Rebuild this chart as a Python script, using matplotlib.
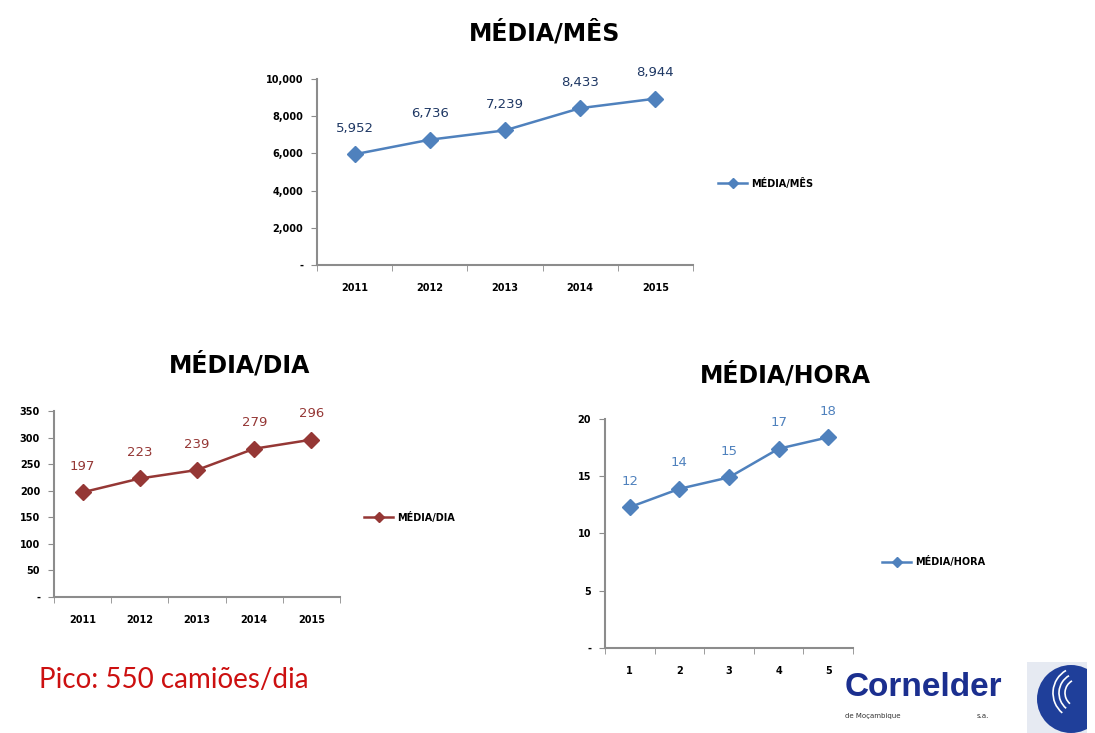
import matplotlib
matplotlib.use("Agg")
import matplotlib.pyplot as plt
from matplotlib.patches import Circle, Rectangle, Arc
from matplotlib.ticker import FixedLocator

# ---------------- data ----------------
years = ["2011", "2012", "2013", "2014", "2015"]
hours_cats = ["1", "2", "3", "4", "5"]
media_mes = [5952, 6736, 7239, 8433, 8944]
media_dia = [197, 223, 239, 279, 296]
media_hora = [12.3, 13.9, 14.9, 17.4, 18.4]

mes_yticks = [0, 2000, 4000, 6000, 8000, 10000]
mes_ylabels = ["-", "2,000", "4,000", "6,000", "8,000", "10,000"]
dia_yticks = [0, 50, 100, 150, 200, 250, 300, 350]
dia_ylabels = ["-", "50", "100", "150", "200", "250", "300", "350"]
hora_yticks = [0, 5, 10, 15, 20]
hora_ylabels = ["-", "5", "10", "15", "20"]

BLUE = "#4f81bd"
RED = "#953735"
GRAY = "#8c8c8c"

fig = plt.figure(figsize=(10.95, 7.33), dpi=100)
fig.patch.set_facecolor("white")


def make_chart(rect, cats, vals, yticks, ylabels, color, label_color, fmt, name, leg_pos):
    ax = fig.add_axes(rect)
    x = list(range(len(cats)))
    line, = ax.plot(x, vals, color=color, lw=1.8, marker="D", markersize=8,
                    markeredgecolor=color, label=name)
    for xi, v in zip(x, vals):
        ax.annotate(fmt(v), (xi, v), xytext=(0, 14), textcoords="offset points",
                    ha="center", va="bottom", fontsize=9.5, color=label_color)
    ax.set_xlim(-0.5, len(cats) - 0.5)
    ax.set_ylim(yticks[0], yticks[-1])
    ax.set_xticks(x)
    ax.set_xticklabels(cats, fontsize=7, fontweight="bold")
    ax.xaxis.set_minor_locator(FixedLocator([i - 0.5 for i in range(len(cats) + 1)]))
    ax.tick_params(axis="x", which="major", length=0, pad=13)
    ax.tick_params(axis="x", which="minor", length=4, color=GRAY, direction="out")
    ax.set_yticks(yticks)
    ax.set_yticklabels(ylabels, fontsize=7, fontweight="bold")
    ax.tick_params(axis="y", length=4, color=GRAY, pad=6)
    for s in ("top", "right"):
        ax.spines[s].set_visible(False)
    for s in ("left", "bottom"):
        ax.spines[s].set_color(GRAY)
        ax.spines[s].set_linewidth(1.5)
    ax.set_facecolor("none")
    fig.legend(handles=[line], labels=[name], loc="center left",
               bbox_to_anchor=leg_pos, bbox_transform=fig.transFigure,
               frameon=False, handlelength=3, handletextpad=0.4,
               borderpad=0, borderaxespad=0, markerscale=0.6,
               prop={"size": 7, "weight": "bold"})
    return ax


fmt_thousands = lambda v: f"{v:,.0f}"
fmt_int = lambda v: f"{v:.0f}"

make_chart([0.2895, 0.6385, 0.3434, 0.2537], years, media_mes, mes_yticks, mes_ylabels,
           BLUE, "#1f3864", fmt_thousands, "MÉDIA/MÊS", (718 / 1095, 1 - 183 / 733))
make_chart([0.0493, 0.1855, 0.2612, 0.2538], years, media_dia, dia_yticks, dia_ylabels,
           RED, RED, fmt_int, "MÉDIA/DIA", (364 / 1095, 1 - 517 / 733))
make_chart([0.5525, 0.1160, 0.2265, 0.3124], hours_cats, media_hora, hora_yticks, hora_ylabels,
           BLUE, BLUE, fmt_int, "MÉDIA/HORA", (882 / 1095, 1 - 562 / 733))

# titles
fig.text(545 / 1095, 1 - 33 / 733, "MÉDIA/MÊS", ha="center", va="center",
         fontsize=17, fontweight="bold")
fig.text(240 / 1095, 1 - 365 / 733, "MÉDIA/DIA", ha="center", va="center",
         fontsize=17, fontweight="bold")
fig.text(785 / 1095, 1 - 375 / 733, "MÉDIA/HORA", ha="center", va="center",
         fontsize=17, fontweight="bold")

# note
fig.text(39 / 1095, 1 - 680 / 733, "Pico: 550 camiões/dia", ha="left", va="center",
         fontsize=20, color="#cc1010", family="Lato")

# logo text
fig.text(845 / 1095, 1 - 687 / 733, "Cornelder", ha="left", va="center",
         fontsize=24, fontweight="bold", color="#1b2f8f", family="Liberation Sans")
fig.text(845 / 1095, 1 - 716 / 733, "de Moçambique", ha="left", va="center",
         fontsize=5, color="#333333")
fig.text(977 / 1095, 1 - 716 / 733, "s.a.", ha="left", va="center",
         fontsize=5, color="#333333")

# logo icon
axl = fig.add_axes([1027 / 1095, 0, 68 / 1095, 71 / 733])
axl.set_xlim(0, 68)
axl.set_ylim(0, 71)
axl.axis("off")
axl.add_patch(Rectangle((0, 0), 68, 71, facecolor="#e6eaf2", edgecolor="none"))
axl.add_patch(Circle((44, 34), 34, facecolor="#1f3f9a", edgecolor="none"))
for r in (14, 20, 26):
    axl.add_patch(Arc((52, 40), 2 * r, 2 * r, theta1=120, theta2=230,
                      color="white", lw=1.2))
axl.add_patch(Rectangle((60, 0), 8, 71, facecolor="white", edgecolor="none"))

fig.savefig("out.png", dpi=100)
